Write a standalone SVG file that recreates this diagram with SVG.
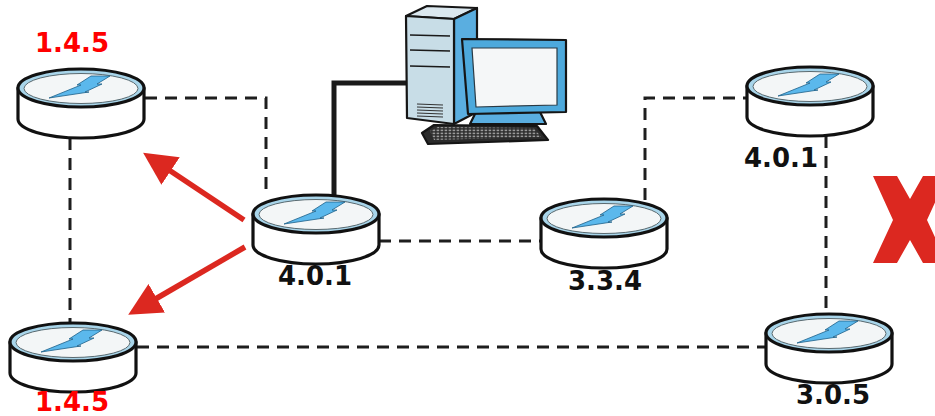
<svg xmlns="http://www.w3.org/2000/svg" width="935" height="416" viewBox="0 0 935 416">
  <style>
    .dash { fill: none; stroke: #1e1e1e; stroke-width: 3; stroke-dasharray: 12 8; }
    .cable { fill: none; stroke: #1a1a1a; stroke-width: 5; stroke-linejoin: miter; }
    .lbl { font-family: "DejaVu Sans", Verdana, sans-serif; font-weight: bold; font-size: 26px; text-anchor: middle; }
    .black { fill: #111; }
    .red { fill: #ff0000; }
    .arrow { stroke: #dc2820; stroke-width: 5.5; fill: none; }
    .ol { stroke: #151515; stroke-width: 2.2; stroke-linejoin: round; }
  </style>
  <defs>
    <!-- router puck: origin at centre of top face -->
    <g id="router">
      <path d="M -63,0 L -63,31 A 63,19 0 0 0 63,31 L 63,0 Z" fill="#fff" stroke="#111" stroke-width="3.2" stroke-linejoin="round"/>
      <ellipse cx="0" cy="0" rx="63" ry="19" fill="#a8d5ea" stroke="#111" stroke-width="3.2"/>
      <ellipse cx="0" cy="0.5" rx="57" ry="15" fill="#f3f6f7" stroke="#5a6a70" stroke-width="1"/>
      <path d="M -32,10 L 0,-3 L -4,-3 L 10,-12 L 29,-12 L 16,-4 L 21,-4 L 4,4 L 8,4 Z" fill="#5bb8ec" stroke="#1d5f88" stroke-width="0.8" stroke-linejoin="round"/>
    </g>
    <pattern id="keys" width="4" height="3" patternUnits="userSpaceOnUse">
      <rect width="4" height="3" fill="#2b2b2b"/>
      <rect x="0.6" y="0.6" width="2.6" height="1.6" fill="#9a9a9a"/>
    </pattern>
    <marker id="head" markerWidth="6" markerHeight="6" refX="1" refY="3" orient="auto" markerUnits="strokeWidth">
      <path d="M 0,0 L 6,3 L 0,6 Z" fill="#dc2820"/>
    </marker>
  </defs>

  <!-- links -->
  <g id="connectors">
    <path class="dash" d="M 145,98 L 266,98 L 266,197"/>
    <path class="dash" d="M 70,138 L 70,324"/>
    <path class="dash" d="M 379,241 L 541,241"/>
    <path class="dash" d="M 645,200 L 645,98 L 747,98"/>
    <path class="dash" d="M 826,136 L 826,315"/>
    <path class="dash" d="M 137,347 L 765,347"/>
    <path class="cable" d="M 334,197 L 334,83 L 408,83"/>
    <path class="arrow" d="M 244,220 L 166,168" marker-end="url(#head)"/>
    <path class="arrow" d="M 245,247 L 152,301" marker-end="url(#head)"/>
  </g>

  <!-- workstation -->
  <g id="computer">
    <polygon class="ol" points="406,16 427,6 477,8 454,19" fill="#dbe8ef"/>
    <polygon class="ol" points="454,19 477,8 477,112 454,124" fill="#5aaee0"/>
    <polygon class="ol" points="406,16 454,19 454,124 407,118" fill="#c8dde7"/>
    <path d="M 410,35 L 450,36 M 410,50 L 450,51 M 410,66 L 450,67" stroke="#1a1a1a" stroke-width="1.6"/>
    <path d="M 417,104 L 443,105 M 417,107 L 443,108 M 417,110 L 443,111 M 417,113 L 443,114 M 417,116 L 443,117" stroke="#333" stroke-width="1.1"/>
    <polygon class="ol" points="476,112 540,112 546,124 470,124" fill="#5aaee0"/>
    <polygon class="ol" points="462,39 566,40 566,112 468,114" fill="#4da9dc"/>
    <polygon points="472,48 557,48 557,105 476,107" fill="#f5f7f8" stroke="#2a3a44" stroke-width="1.2"/>
    <polygon class="ol" points="422,133 434,125 537,126 548,140 428,144" fill="#2b2b2b"/>
    <polygon points="430,131 438,127 534,128 541,137 434,140" fill="url(#keys)"/>
  </g>

  <g id="r-topleft">
    <use href="#router" x="81" y="88"/>
    <text class="lbl red" x="72" y="52">1.4.5</text>
  </g>
  <g id="r-center">
    <use href="#router" x="316" y="214"/>
    <text class="lbl black" x="315" y="285">4.0.1</text>
  </g>
  <g id="r-mid">
    <use href="#router" x="604" y="218"/>
    <text class="lbl black" x="605" y="290">3.3.4</text>
  </g>
  <g id="r-topright">
    <use href="#router" x="810" y="86"/>
    <text class="lbl black" x="781" y="167">4.0.1</text>
  </g>
  <g id="r-bottomright">
    <use href="#router" x="829" y="333"/>
    <text class="lbl black" x="833" y="404">3.0.5</text>
  </g>
  <g id="r-bottomleft">
    <use href="#router" x="73" y="342"/>
    <text class="lbl red" x="72" y="411" font-size="25">1.4.5</text>
  </g>

  <!-- failed link mark -->
  <g id="fail-mark">
    <polygon points="873,176 897,176 910,199 923,176 947,176 927,220 947,263 923,263 910,240 897,263 873,263 893,220" fill="#dc2820"/>
  </g>
</svg>
